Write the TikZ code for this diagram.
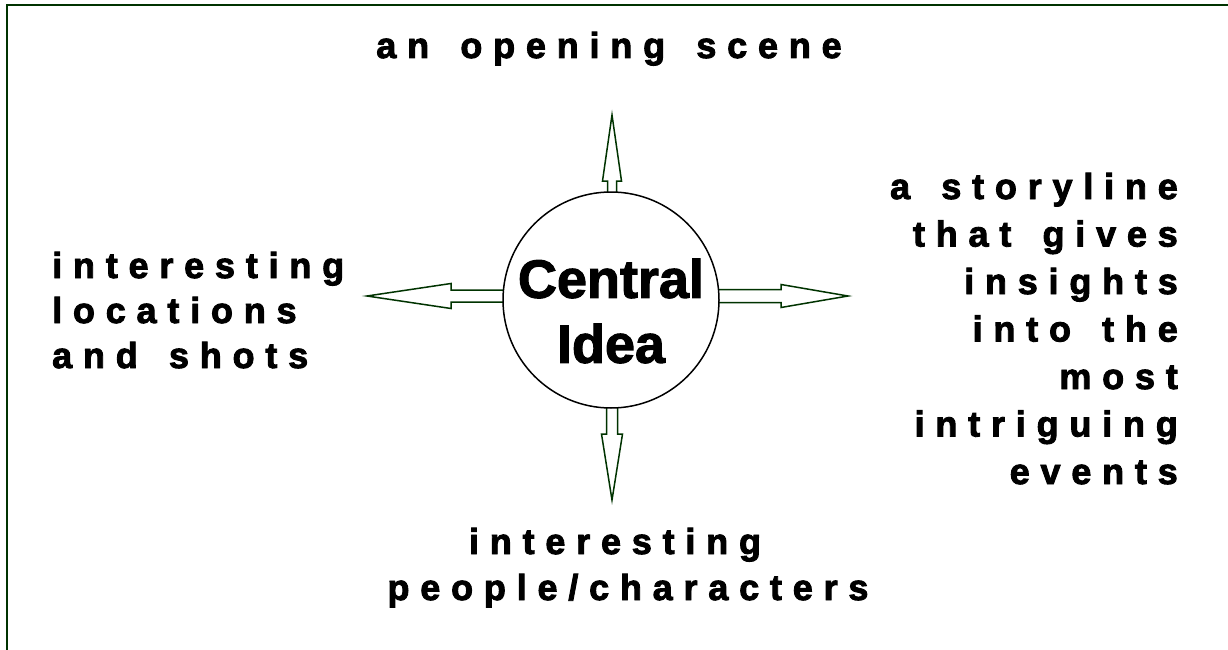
\documentclass[tikz,border=0pt]{standalone}
\usepackage{fontspec}
\usetikzlibrary{positioning,calc}
\newfontfamily\spacedfont{Liberation Sans Bold}[LetterSpace=30, WordSpace=1.5, FakeBold=2.5]
\newfontfamily\ideafont{Liberation Sans Bold}[FakeBold=2]
\definecolor{framegreen}{RGB}{0,51,0}
\tikzset{
  lbl/.style      = {inner sep=0pt, font=\spacedfont\fontsize{36}{46}\selectfont},
  idea/.style     = {circle, draw, fill=white, minimum size=216pt, inner sep=0pt,
                     line width=1.5pt},
  ideatext/.style = {inner sep=0pt, align=center,
                     font=\ideafont\fontsize{54}{65}\selectfont},
  blk/.style      = {draw=framegreen, fill=white, line width=1.5pt, line join=miter},
  frm/.style      = {draw=framegreen, line width=2pt},
}
\begin{document}
\begin{tikzpicture}[x=1pt,y=-1pt]
  \useasboundingbox (0,0) rectangle (1228,650);
  \draw[frm] (1240,5) -- (7,5) -- (7,660);

  % texts (base = last line)
  \node[lbl, anchor=base] (top) at (609,58) {an opening scene};
  \node[lbl, anchor=base west, align=left, font=\spacedfont\fontsize{36}{45}\selectfont]
    (left) at (52,368) {interesting\\locations\\and shots};
  \node[lbl, anchor=base east, align=right, font=\spacedfont\fontsize{36}{47.5}\selectfont]
    (right) at (1178,484)
    {a storyline\\that gives\\insights\\into the\\most\\intriguing\\events};
  \node[lbl, anchor=base, align=center] (bottom) at (628,600)
    {interesting\hspace*{26pt}\\people/characters};

  % arrow tips
  \coordinate (tipN) at (612,115);
  \coordinate (tipS) at (612,500);
  \coordinate (tipE) at (848,296);
  \coordinate (tipW) at (367,296);

  \draw[blk] (tipN) -- ++(9.5,66) -- ++(-5,0) -- ++(0,30) -- ++(-9,0)
    -- ++(0,-30) -- ++(-5,0) -- cycle;
  \draw[blk] (tipS) -- ++(10.5,-66) -- ++(-5,0) -- ++(0,-40) -- ++(-11,0)
    -- ++(0,40) -- ++(-5,0) -- cycle;
  \draw[blk] (tipE) -- ++(-67,-11.5) -- ++(0,5) -- ++(-80,0) -- ++(0,13)
    -- ++(80,0) -- ++(0,5) -- cycle;
  \draw[blk] (tipW) -- ++(84,-12.5) -- ++(0,6.5) -- ++(70,0) -- ++(0,12)
    -- ++(-70,0) -- ++(0,6.5) -- cycle;

  % centre
  \node[idea] (idea) at (611,300) {};
  \node[ideatext] (ideatxt) at ($(idea.center)+(0,11)$) {Central\\Idea};
\end{tikzpicture}
\end{document}
